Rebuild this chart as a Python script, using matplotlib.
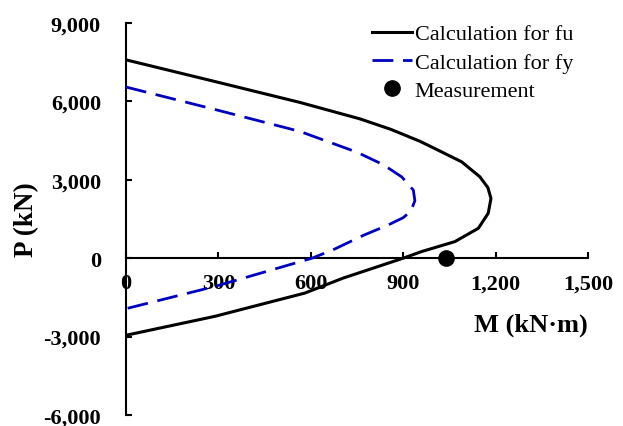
import matplotlib
matplotlib.use('Agg')
import matplotlib.pyplot as plt

# values (M in kN*m, P in kN)
M_fu = [0, 289, 565, 760, 860, 955, 1003, 1090, 1149, 1175, 1185, 1176, 1144, 1068, 960, 900, 705, 581, 289, 0]
P_fu = [7590, 6760, 5960, 5330, 4930, 4470, 4194, 3686, 3114, 2700, 2287, 1716, 1144, 635, 254, 0, -762, -1334, -2224, -2950]

M_fy = [0, 289, 565, 749, 835, 895, 933, 938, 925, 900, 851, 770, 672, 604, 289, 0]
P_fy = [6550, 5690, 4850, 4060, 3580, 3114, 2605, 2200, 1800, 1550, 1270, 870, 318, 0, -1080, -1932]

M_test = [1040]
P_test = [0]

xticks = [0, 300, 600, 900, 1200, 1500]
xticklabels = ['0', '300', '600', '900', '1,200', '1,500']
yticks = [-6000, -3000, 0, 3000, 6000, 9000]
yticklabels = ['-6,000', '-3,000', '0', '3,000', '6,000', '9,000']

plt.rcParams['font.family'] = ['Liberation Serif', 'DejaVu Serif']

fig = plt.figure(figsize=(6.23, 4.27), dpi=100)
ax = fig.add_axes([0.2022, 0.0258, 0.7416, 0.918])

ax.plot(M_fu, P_fu, color='black', linewidth=2.2, label='Calculation for fu', zorder=3)
ax.plot(M_fy, P_fy, color='#0000C0', linewidth=2.0, linestyle=(0, (7.5, 3.5)),
        label='Calculation for fy', zorder=3)
ax.plot(M_test, P_test, 'o', color='black', markersize=11, label='Measurement',
        zorder=4, clip_on=False)

ax.set_xlim(0, 1500)
ax.set_ylim(-6000, 9000)
ax.set_xticks(xticks)
ax.set_xticklabels(xticklabels)
ax.set_yticks(yticks)
ax.set_yticklabels(yticklabels)

ax.spines['top'].set_visible(False)
ax.spines['right'].set_visible(False)
ax.spines['bottom'].set_position(('data', 0))
for s in ['left', 'bottom']:
    ax.spines[s].set_linewidth(1.5)

ax.tick_params(axis='both', direction='in', length=4.5, width=1.5, labelsize=16)
ax.tick_params(axis='y', pad=18)
ax.tick_params(axis='x', pad=11)
for lab in ax.get_xticklabels() + ax.get_yticklabels():
    lab.set_fontweight('bold')

ax.set_xlabel('M (kN·m)', fontsize=19, fontweight='bold', ha='right', va='center')
ax.xaxis.set_label_coords(1.0, 0.232)
ax.set_ylabel('P (kN)', fontsize=19.5, fontweight='bold', va='center')
ax.yaxis.set_label_coords(-0.214, 0.5)

ax.legend(loc='upper left', bbox_to_anchor=(0.597, 0.942), bbox_transform=fig.transFigure,
          frameon=False, fontsize=16, handlelength=1.8, handletextpad=0.12,
          labelspacing=0.35, borderpad=0, borderaxespad=0)

fig.savefig('out.png', dpi=100)
